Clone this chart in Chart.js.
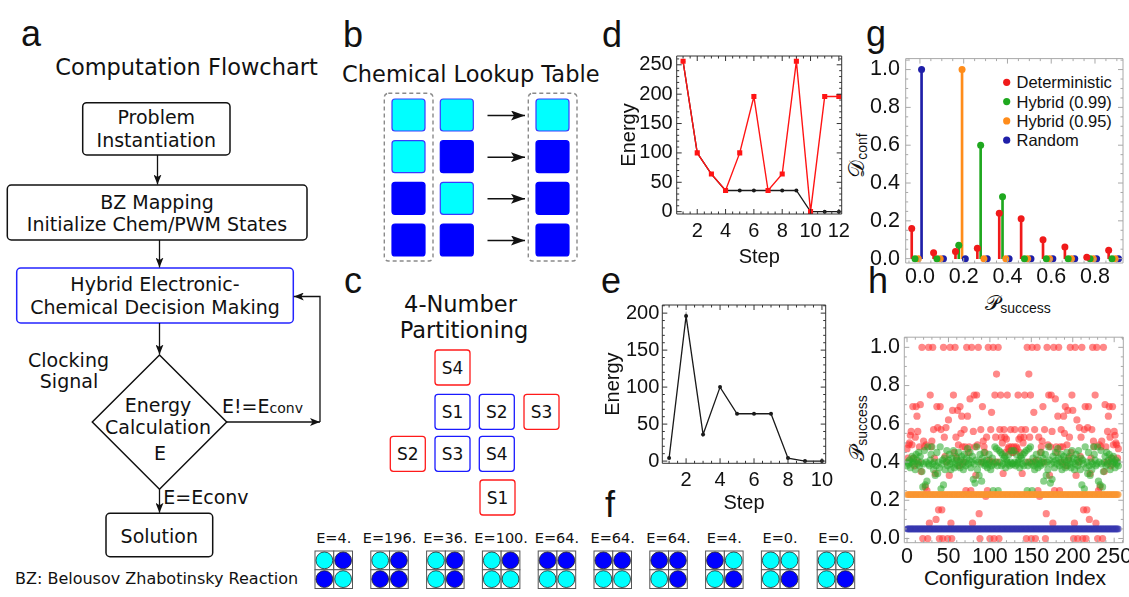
<!DOCTYPE html>
<html>
<head>
<meta charset="utf-8">
<title>Hybrid electronic-chemical number partitioning</title>
<script src="https://cdn.jsdelivr.net/npm/chart.js@4.4.1/dist/chart.umd.min.js"></script>
<style>
  html, body { margin: 0; padding: 0; background: #fff; overflow: hidden; }
  #page { position: relative; width: 1129px; height: 597px; overflow: hidden; background: #fff; }
  #page canvas, #page svg { position: absolute; }
</style>
</head>
<body>
<div id="page">
<svg id="art" width="1129" height="597" style="left:0;top:0">
  <defs>
    <marker id="head" viewBox="0 0 10 8" refX="10" refY="4" markerWidth="10" markerHeight="8" markerUnits="userSpaceOnUse" orient="auto">
      <path d="M0,0 L10,4 L0,8 L2.5,4 z" fill="#111"/>
    </marker>
    <marker id="headB" viewBox="0 0 14 10" refX="14" refY="5" markerWidth="14" markerHeight="10" markerUnits="userSpaceOnUse" orient="auto">
      <path d="M0,0 L14,5 L0,10 L3,5 z" fill="#111"/>
    </marker>
  </defs>

  <!-- panel letters -->
  <g font-family="Liberation Sans, Arial, sans-serif" font-size="36" fill="#111">
    <text x="21" y="46">a</text>
    <text x="343" y="47">b</text>
    <text x="344" y="293">c</text>
    <text x="602" y="47">d</text>
    <text x="601" y="293">e</text>
    <text x="605" y="517">f</text>
    <text x="866" y="46">g</text>
    <text x="868" y="293">h</text>
  </g>

  <!-- a: flowchart -->
  <g font-family="DejaVu Sans, Verdana, sans-serif" font-size="19" fill="#111" text-anchor="middle">
    <text x="186.5" y="75" font-size="22.5">Computation Flowchart</text>
    <g fill="none" stroke="#111" stroke-width="1.5">
      <rect x="82.7" y="102.7" width="147.3" height="52.3" rx="4"/>
      <rect x="7.3" y="185" width="299.7" height="55" rx="4"/>
      <rect x="16.7" y="268" width="276.6" height="55" rx="4" stroke="#2424ff"/>
      <polygon points="159.5,355 226.7,422 159.5,489.3 92.3,422"/>
      <rect x="106" y="513.3" width="106.7" height="43.4" rx="4"/>
    </g>
    <g fill="none" stroke="#111" stroke-width="1.3">
      <line x1="157.5" y1="155" x2="157.5" y2="184.5" marker-end="url(#head)"/>
      <line x1="159.5" y1="240" x2="159.5" y2="267.5" marker-end="url(#head)"/>
      <line x1="159.5" y1="323" x2="159.5" y2="354.5" marker-end="url(#head)"/>
      <line x1="159.5" y1="489.3" x2="159.5" y2="512.8" marker-end="url(#head)"/>
      <line x1="226.7" y1="422" x2="320" y2="422" marker-end="url(#head)"/>
      <polyline points="320,422 320,296.5 293.8,296.5" marker-end="url(#head)"/>
    </g>
    <text x="156.3" y="124">Problem</text>
    <text x="156.3" y="146.7">Instantiation</text>
    <text x="157" y="209">BZ Mapping</text>
    <text x="157" y="230.7">Initialize Chem/PWM States</text>
    <text x="155" y="290.7">Hybrid Electronic-</text>
    <text x="155" y="314">Chemical Decision Making</text>
    <text x="68.5" y="366.7">Clocking</text>
    <text x="69" y="388.3">Signal</text>
    <text x="158" y="412.3">Energy</text>
    <text x="158" y="434.3">Calculation</text>
    <text x="160" y="460">E</text>
    <text x="222" y="413" text-anchor="start">E!=E<tspan font-size="14">conv</tspan></text>
    <text x="163.3" y="504" text-anchor="start">E=Econv</text>
    <text x="159.3" y="543.3">Solution</text>
    <text x="15" y="584.3" text-anchor="start" font-size="16">BZ: Belousov Zhabotinsky Reaction</text>
  </g>

  <!-- b, c titles -->
  <g font-family="DejaVu Sans, Verdana, sans-serif" font-size="22.5" fill="#111" text-anchor="middle">
    <text x="470.8" y="81.5">Chemical Lookup Table</text>
    <text x="460.5" y="311.7">4-Number</text>
    <text x="464" y="338.3">Partitioning</text>
  </g>
  <g id="panelB"></g>
  <g id="panelC"></g>
  <g id="panelF"></g>

  <!-- g / h axis titles and legend -->
  <g font-family="Liberation Sans, Arial, sans-serif" fill="#111">
    <text transform="translate(864,155.5) rotate(-90)" text-anchor="middle"><tspan font-family="DejaVu Serif, serif" font-size="22">𝒟</tspan><tspan font-size="14" dy="3">conf</tspan></text>
    <text x="1018" y="310" text-anchor="middle"><tspan font-family="DejaVu Serif, serif" font-size="21">𝒫</tspan><tspan font-size="14" dy="3">success</tspan></text>
    <text transform="translate(864,428) rotate(-90)" text-anchor="middle"><tspan font-family="DejaVu Serif, serif" font-size="21">𝒫</tspan><tspan font-size="14" dy="3">success</tspan></text>
    <text x="1015" y="585" text-anchor="middle" font-size="21">Configuration Index</text>
  </g>
  <g id="legendG" font-family="Liberation Sans, Arial, sans-serif" font-size="16.5" fill="#111"></g>
</svg>
<canvas id="chartD" width="250" height="235" style="left:615px;top:40px"></canvas>
<canvas id="chartE" width="250" height="225" style="left:600px;top:290px"></canvas>
<canvas id="chartG" width="300" height="260" style="left:845px;top:40px"></canvas>
<canvas id="chartH" width="300" height="277" style="left:845px;top:320px"></canvas>
</div>

<script>
// ---- data ----

// d: energy trace, deterministic run and lowest energy found so far
const steps12 = [1, 2, 3, 4, 5, 6, 7, 8, 9, 10, 11, 12];
const energyDeterministic = [256, 100, 64, 36, 100, 196, 36, 64, 256, 0, 196, 196];
const energyLowest = [256, 100, 64, 36, 36, 36, 36, 36, 36, 0, 0, 0];
const dStepTicks = [2, 4, 6, 8, 10, 12];
const dEnergyTicks = [0, 50, 100, 150, 200, 250];

// e: energy trace of the hybrid run (same states as in f)
const steps10 = [1, 2, 3, 4, 5, 6, 7, 8, 9, 10];
const energyHybrid = [4, 196, 36, 100, 64, 64, 64, 4, 0, 0];
const eStepTicks = [2, 4, 6, 8, 10];
const eEnergyTicks = [0, 50, 100, 150, 200];

// f: 2x2 chemical states per step (1 = cyan, 0 = blue), order TL, TR, BL, BR
const fStates = [[1,0,0,1], [1,0,0,0], [1,0,1,0], [1,0,1,1], [0,0,1,1],
                 [0,0,1,1], [0,0,1,0], [0,1,1,0], [1,1,1,0], [1,1,1,0]];

// b: lookup table columns (input A, input B, output)
const lookupColumns = [[1,1,0,0], [1,0,1,0], [1,0,0,0]];

// g: distribution of configurations over success probability
const pBins = [0.0, 0.1, 0.2, 0.3, 0.4, 0.5, 0.6, 0.7, 0.8, 0.9];
const confDeterministic = [0.16, 0.031, 0.038, 0.055, 0.24, 0.211, 0.10, 0.062, 0.008, 0.045];
const confHybrid99 = [0, 0, 0.071, 0.60, 0.327, 0, 0, 0, 0, 0];
const confHybrid95 = [0, 0, 1.0, 0, 0, 0, 0, 0, 0, 0];
const confRandom = [1.0, 0, 0, 0, 0, 0, 0, 0, 0, 0];
const gPTicks = [0, 0.2, 0.4, 0.6, 0.8];
const gConfTicks = [0, 0.2, 0.4, 0.6, 0.8, 1.0];

// h: success probability for each of the 256 configurations
const successDeterministic = [
  0.47,0.42,0.49,0.50,0.54,0.56,0.49,0.69,0.42,0.38,0.53,0.69,0.64,0.56,0.40,0.48,
  0.70,0.35,1.00,0.00,0.51,0.48,0.27,0.49,0.25,0.00,1.00,0.08,0.75,0.48,0.51,1.00,
  0.57,0.42,0.34,0.10,0.69,0.58,0.15,0.00,0.69,0.57,0.15,0.00,1.00,0.53,0.43,0.58,
  0.40,0.00,0.62,0.33,1.00,0.08,0.00,0.67,0.75,0.45,1.00,0.53,0.42,0.67,0.49,0.38,
  0.69,0.55,0.64,0.48,0.40,0.57,0.48,0.25,1.00,0.64,0.45,0.48,0.73,0.25,1.00,0.08,
  0.56,0.75,0.48,0.33,0.75,0.49,1.00,0.13,0.00,0.57,0.40,0.69,0.51,0.48,0.45,0.22,
  0.53,0.25,1.00,0.41,0.00,0.57,0.66,0.40,1.00,0.00,0.75,0.53,0.86,0.40,1.00,0.00,
  0.57,0.75,0.53,0.50,0.34,0.57,0.53,0.45,0.52,0.75,0.47,0.48,0.46,0.57,0.48,0.45,
  0.45,0.48,0.57,0.46,0.48,0.47,0.75,0.52,0.45,0.53,0.57,0.34,0.50,0.53,0.75,0.57,
  0.00,1.00,0.40,0.86,0.53,0.75,0.00,1.00,0.40,0.66,0.57,0.00,0.41,1.00,0.25,0.53,
  0.22,0.45,0.48,0.51,0.69,0.40,0.57,0.00,0.13,1.00,0.49,0.75,0.33,0.48,0.75,0.56,
  0.08,1.00,0.25,0.73,0.48,0.45,0.64,1.00,0.25,0.48,0.57,0.40,0.48,0.64,0.55,0.69,
  0.38,0.49,0.67,0.42,0.53,1.00,0.45,0.75,0.67,0.00,0.08,1.00,0.33,0.62,0.00,0.40,
  0.58,0.43,0.53,1.00,0.00,0.15,0.57,0.69,0.00,0.15,0.58,0.69,0.10,0.34,0.42,0.57,
  1.00,0.51,0.48,0.75,0.08,1.00,0.00,0.25,0.49,0.27,0.48,0.51,0.00,1.00,0.35,0.70,
  0.48,0.40,0.56,0.64,0.69,0.53,0.38,0.42,0.69,0.49,0.56,0.54,0.50,0.49,0.42,0.47
];
const successHybrid99 = [
  0.38,0.40,0.39,0.41,0.37,0.40,0.43,0.39,0.42,0.40,0.36,0.44,0.41,0.39,0.45,0.38,
  0.43,0.40,0.35,0.27,0.39,0.46,0.28,0.40,0.30,0.48,0.39,0.38,0.41,0.44,0.48,0.39,
  0.36,0.40,0.33,0.38,0.45,0.34,0.40,0.37,0.48,0.26,0.39,0.41,0.28,0.42,0.36,0.40,
  0.46,0.38,0.41,0.44,0.39,0.36,0.42,0.40,0.46,0.37,0.39,0.43,0.41,0.38,0.45,0.40,
  0.37,0.41,0.43,0.39,0.36,0.44,0.40,0.38,0.42,0.47,0.39,0.41,0.45,0.37,0.40,0.43,
  0.31,0.39,0.29,0.41,0.48,0.36,0.40,0.33,0.44,0.39,0.30,0.42,0.40,0.45,0.38,0.39,
  0.41,0.37,0.39,0.44,0.40,0.36,0.38,0.42,0.25,0.39,0.48,0.40,0.47,0.38,0.25,0.46,
  0.40,0.45,0.38,0.44,0.39,0.42,0.43,0.37,0.41,0.40,0.39,0.44,0.38,0.40,0.46,0.39,
  0.39,0.46,0.40,0.38,0.44,0.39,0.40,0.41,0.37,0.43,0.42,0.39,0.44,0.38,0.45,0.40,
  0.46,0.25,0.38,0.47,0.40,0.48,0.39,0.25,0.42,0.38,0.36,0.40,0.44,0.39,0.37,0.41,
  0.39,0.38,0.45,0.40,0.42,0.30,0.39,0.44,0.33,0.40,0.36,0.48,0.41,0.29,0.39,0.31,
  0.43,0.40,0.37,0.45,0.41,0.39,0.47,0.42,0.38,0.40,0.44,0.36,0.39,0.43,0.41,0.37,
  0.40,0.45,0.38,0.41,0.43,0.39,0.37,0.46,0.40,0.42,0.36,0.39,0.44,0.41,0.38,0.46,
  0.40,0.36,0.42,0.28,0.41,0.39,0.26,0.48,0.37,0.40,0.34,0.45,0.38,0.33,0.40,0.36,
  0.39,0.48,0.44,0.41,0.38,0.39,0.48,0.30,0.40,0.28,0.46,0.39,0.27,0.35,0.40,0.43,
  0.38,0.45,0.39,0.41,0.44,0.36,0.40,0.42,0.39,0.43,0.40,0.37,0.41,0.39,0.40,0.38
];
const successHybrid95 = [
  0.23,0.23,0.23,0.23,0.23,0.23,0.23,0.23,0.23,0.23,0.23,0.23,0.23,0.23,0.23,0.23,
  0.23,0.23,0.23,0.23,0.23,0.23,0.23,0.23,0.23,0.23,0.23,0.23,0.23,0.23,0.23,0.23,
  0.23,0.23,0.23,0.23,0.23,0.23,0.23,0.23,0.23,0.23,0.23,0.23,0.23,0.23,0.23,0.23,
  0.23,0.23,0.23,0.23,0.23,0.23,0.23,0.23,0.23,0.23,0.23,0.23,0.23,0.23,0.23,0.23,
  0.23,0.23,0.23,0.23,0.23,0.23,0.23,0.23,0.23,0.23,0.23,0.23,0.23,0.23,0.23,0.23,
  0.23,0.23,0.23,0.23,0.23,0.23,0.23,0.23,0.23,0.23,0.23,0.23,0.23,0.23,0.23,0.23,
  0.23,0.23,0.23,0.23,0.23,0.23,0.23,0.23,0.23,0.23,0.23,0.23,0.23,0.23,0.23,0.23,
  0.23,0.23,0.23,0.23,0.23,0.23,0.23,0.23,0.23,0.23,0.23,0.23,0.23,0.23,0.23,0.23,
  0.23,0.23,0.23,0.23,0.23,0.23,0.23,0.23,0.23,0.23,0.23,0.23,0.23,0.23,0.23,0.23,
  0.23,0.23,0.23,0.23,0.23,0.23,0.23,0.23,0.23,0.23,0.23,0.23,0.23,0.23,0.23,0.23,
  0.23,0.23,0.23,0.23,0.23,0.23,0.23,0.23,0.23,0.23,0.23,0.23,0.23,0.23,0.23,0.23,
  0.23,0.23,0.23,0.23,0.23,0.23,0.23,0.23,0.23,0.23,0.23,0.23,0.23,0.23,0.23,0.23,
  0.23,0.23,0.23,0.23,0.23,0.23,0.23,0.23,0.23,0.23,0.23,0.23,0.23,0.23,0.23,0.23,
  0.23,0.23,0.23,0.23,0.23,0.23,0.23,0.23,0.23,0.23,0.23,0.23,0.23,0.23,0.23,0.23,
  0.23,0.23,0.23,0.23,0.23,0.23,0.23,0.23,0.23,0.23,0.23,0.23,0.23,0.23,0.23,0.23,
  0.23,0.23,0.23,0.23,0.23,0.23,0.23,0.23,0.23,0.23,0.23,0.23,0.23,0.23,0.23,0.23
];
const successRandom = [
  0.05,0.05,0.05,0.05,0.05,0.05,0.05,0.05,0.05,0.05,0.05,0.05,0.05,0.05,0.05,0.05,
  0.05,0.05,0.05,0.05,0.05,0.05,0.05,0.05,0.05,0.05,0.05,0.05,0.05,0.05,0.05,0.05,
  0.05,0.05,0.05,0.05,0.05,0.05,0.05,0.05,0.05,0.05,0.05,0.05,0.05,0.05,0.05,0.05,
  0.05,0.05,0.05,0.05,0.05,0.05,0.05,0.05,0.05,0.05,0.05,0.05,0.05,0.05,0.05,0.05,
  0.05,0.05,0.05,0.05,0.05,0.05,0.05,0.05,0.05,0.05,0.05,0.05,0.05,0.05,0.05,0.05,
  0.05,0.05,0.05,0.05,0.05,0.05,0.05,0.05,0.05,0.05,0.05,0.05,0.05,0.05,0.05,0.05,
  0.05,0.05,0.05,0.05,0.05,0.05,0.05,0.05,0.05,0.05,0.05,0.05,0.05,0.05,0.05,0.05,
  0.05,0.05,0.05,0.05,0.05,0.05,0.05,0.05,0.05,0.05,0.05,0.05,0.05,0.05,0.05,0.05,
  0.05,0.05,0.05,0.05,0.05,0.05,0.05,0.05,0.05,0.05,0.05,0.05,0.05,0.05,0.05,0.05,
  0.05,0.05,0.05,0.05,0.05,0.05,0.05,0.05,0.05,0.05,0.05,0.05,0.05,0.05,0.05,0.05,
  0.05,0.05,0.05,0.05,0.05,0.05,0.05,0.05,0.05,0.05,0.05,0.05,0.05,0.05,0.05,0.05,
  0.05,0.05,0.05,0.05,0.05,0.05,0.05,0.05,0.05,0.05,0.05,0.05,0.05,0.05,0.05,0.05,
  0.05,0.05,0.05,0.05,0.05,0.05,0.05,0.05,0.05,0.05,0.05,0.05,0.05,0.05,0.05,0.05,
  0.05,0.05,0.05,0.05,0.05,0.05,0.05,0.05,0.05,0.05,0.05,0.05,0.05,0.05,0.05,0.05,
  0.05,0.05,0.05,0.05,0.05,0.05,0.05,0.05,0.05,0.05,0.05,0.05,0.05,0.05,0.05,0.05,
  0.05,0.05,0.05,0.05,0.05,0.05,0.05,0.05,0.05,0.05,0.05,0.05,0.05,0.05,0.05,0.05
];
const hIndexTicks = [0, 50, 100, 150, 200, 250];
const hSuccessTicks = [0, 0.2, 0.4, 0.6, 0.8, 1.0];

// ---- diagrams (b, c, f) ----
const svgNS = 'http://www.w3.org/2000/svg';
function add(parent, tag, attrs, text) {
    const el = document.createElementNS(svgNS, tag);
    for (const k in attrs) el.setAttribute(k, attrs[k]);
    if (text !== undefined) el.textContent = text;
    document.getElementById(parent).appendChild(el);
    return el;
}
const CYAN = '#00ffff', BLUE = '#0000ff';

// b: lookup table
const colX = [392, 440.3, 536];
const rowY = [99, 140.7, 182.3, 224];
[384.3, 528.3].forEach(x => add('panelB', 'rect', { x, y: 93.3, width: 48.7, height: 167.7, rx: 4,
    fill: 'none', stroke: '#8a8a8a', 'stroke-width': 1.4, 'stroke-dasharray': '4 3' }));
lookupColumns.forEach((col, c) => col.forEach((on, r) => {
    add('panelB', 'rect', { x: colX[c], y: rowY[r], width: 33, height: 32, rx: 3,
        fill: on ? CYAN : BLUE, stroke: on ? '#3a3aff' : BLUE, 'stroke-width': 1.2 });
}));
rowY.forEach(y => add('panelB', 'line', { x1: 487.5, y1: y + 16.5, x2: 525, y2: y + 16.5,
    stroke: '#111', 'stroke-width': 1.4, 'marker-end': 'url(#headB)' }));

// c: number partition boxes
const partitionBoxes = [
    ['S4', 'r', 435, 350],
    ['S1', 'b', 435, 394.3], ['S2', 'b', 479.3, 394.3], ['S3', 'r', 524, 394.3],
    ['S2', 'r', 390.3, 436.3], ['S3', 'b', 435, 436.3], ['S4', 'b', 479.3, 436.3],
    ['S1', 'r', 480, 480]
];
partitionBoxes.forEach(([t, c, x, y]) => {
    add('panelC', 'rect', { x, y, width: 35, height: 35, rx: 3, fill: '#fff',
        stroke: c === 'r' ? '#ff1a1a' : '#1a1aff', 'stroke-width': 1.3 });
    add('panelC', 'text', { x: x + 17.5, y: y + 23.5, 'text-anchor': 'middle',
        'font-family': 'DejaVu Sans, Verdana, sans-serif', 'font-size': 17, fill: '#111' }, t);
});

// f: states per step
fStates.forEach((st, i) => {
    const x0 = 315 + i * 55.8, y0 = 551, cell = 18.75;
    add('panelF', 'text', { x: x0 + cell, y: 543.3, 'text-anchor': 'middle',
        'font-family': 'DejaVu Sans, Verdana, sans-serif', 'font-size': 14.5, fill: '#111' },
        'E=' + energyHybrid[i] + '.');
    st.forEach((on, k) => {
        const cx = x0 + (k % 2) * cell, cy = y0 + Math.floor(k / 2) * cell;
        add('panelF', 'rect', { x: cx, y: cy, width: cell, height: cell, fill: '#fff', stroke: '#555', 'stroke-width': 1 });
        add('panelF', 'circle', { cx: cx + cell / 2, cy: cy + cell / 2, r: 8.4,
            fill: on ? CYAN : BLUE, stroke: '#222', 'stroke-width': 0.8 });
    });
});

// ---- charts ----
Chart.defaults.font.family = "'Liberation Sans', Arial, sans-serif";
Chart.defaults.font.size = 20;
Chart.defaults.color = '#111';
Chart.defaults.animation = false;
Chart.defaults.plugins.legend.display = false;
Chart.defaults.plugins.tooltip.enabled = false;

// Mathematica-style frame with inward major and minor ticks
const framePlugin = {
    id: 'frame',
    defaults: { color: '#333', major: 5, minor: 2.5, xMinor: 0, yMinor: 0 },
    afterDraw(chart, args, o) {
        const { ctx, chartArea: a, scales: { x, y } } = chart;
        const marks = (scale, step) => {
            const out = scale.ticks.map(t => [t.value, o.major]);
            if (step) {
                for (let k = Math.ceil(scale.min / step); k * step <= scale.max + 1e-9; k++) {
                    const v = k * step;
                    if (!scale.ticks.some(t => Math.abs(t.value - v) < step / 10)) out.push([v, o.minor]);
                }
            }
            return out;
        };
        ctx.save();
        ctx.strokeStyle = o.color;
        ctx.lineWidth = 1;
        ctx.beginPath();
        ctx.rect(a.left, a.top, a.right - a.left, a.bottom - a.top);
        marks(x, o.xMinor).forEach(([v, len]) => {
            const p = x.getPixelForValue(v);
            ctx.moveTo(p, a.bottom); ctx.lineTo(p, a.bottom - len);
            ctx.moveTo(p, a.top); ctx.lineTo(p, a.top + len);
        });
        marks(y, o.yMinor).forEach(([v, len]) => {
            const p = y.getPixelForValue(v);
            ctx.moveTo(a.left, p); ctx.lineTo(a.left + len, p);
            ctx.moveTo(a.right, p); ctx.lineTo(a.right - len, p);
        });
        ctx.stroke();
        ctx.restore();
    }
};
Chart.register(framePlugin);

function axis({ min, max, ticks, size, pad, fmt, title, titlePad, fontSize }) {
    return {
        type: 'linear', min, max,
        grid: { display: false, drawTicks: false },
        border: { display: false },
        ticks: { padding: pad, autoSkip: false, maxRotation: 0, minRotation: 0,
                 font: { size: fontSize || 20 },
                 callback: fmt || (v => String(v)) },
        afterBuildTicks: s => { s.ticks = ticks.map(v => ({ value: v })); },
        afterFit: s => { if (s.isHorizontal()) s.height = size; else s.width = size; },
        title: title ? { display: true, text: title, padding: titlePad } : { display: false }
    };
}
const oneDecimal = v => v.toFixed(1);
const pts = (xs, ys) => xs.map((x, i) => ({ x, y: ys[i] }));

// d
new Chart(document.getElementById('chartD'), {
    type: 'scatter',
    data: {
        datasets: [
            { label: 'Deterministic', data: pts(steps12, energyDeterministic), showLine: true,
              borderColor: '#ff1414', backgroundColor: '#ff1414', borderWidth: 1.4,
              pointStyle: 'rect', pointRadius: 3.6, pointBorderWidth: 0 },
            { label: 'Lowest energy', data: pts(steps12, energyLowest), showLine: true,
              borderColor: '#1a1a1a', backgroundColor: '#1a1a1a', borderWidth: 1.3,
              pointRadius: 2, pointBorderWidth: 0 }
        ]
    },
    options: {
        responsive: false,
        layout: { padding: { top: 10, right: 23.3, left: 0, bottom: 0 } },
        scales: {
            x: axis({ min: 0.55, max: 12.2, ticks: dStepTicks, size: 61, pad: 5.7,
                      title: 'Step', titlePad: { top: 0, bottom: 6 } }),
            y: axis({ min: -4, max: 265, ticks: dEnergyTicks, size: 61.7, pad: 4,
                      title: 'Energy', titlePad: { top: 2, bottom: 0 } })
        },
        plugins: { frame: { color: '#333', xMinor: 0.5, yMinor: 10 } }
    }
});

// e
new Chart(document.getElementById('chartE'), {
    type: 'scatter',
    data: {
        datasets: [
            { label: 'Hybrid', data: pts(steps10, energyHybrid), showLine: true,
              borderColor: '#1a1a1a', backgroundColor: '#1a1a1a', borderWidth: 1.3,
              pointRadius: 2, pointBorderWidth: 0 }
        ]
    },
    options: {
        responsive: false,
        layout: { padding: { top: 9, right: 24.3, left: 0, bottom: 0 } },
        scales: {
            x: axis({ min: 0.6, max: 10.22, ticks: eStepTicks, size: 51.7, pad: 4.7,
                      title: 'Step', titlePad: { top: 0, bottom: 0 } }),
            y: axis({ min: -3, max: 211, ticks: eEnergyTicks, size: 62.3, pad: 3,
                      title: 'Energy', titlePad: { top: 1, bottom: 0 } })
        },
        plugins: { frame: { color: '#333', xMinor: 0.5, yMinor: 10 } }
    }
});

// g
const gSeries = [
    { label: 'Deterministic', values: confDeterministic, color: '#f01a1a', shift: -0.0375 },
    { label: 'Hybrid (0.99)', values: confHybrid99, color: '#1fa81f', shift: -0.0225 },
    { label: 'Hybrid (0.95)', values: confHybrid95, color: '#ff8c1a', shift: -0.0075 },
    { label: 'Random', values: confRandom, color: '#1f1fa8', shift: 0.0075 }
];
const gDatasets = [];
gSeries.forEach(s => {
    const data = pBins.map((p, i) => ({ x: p + s.shift, y: s.values[i] }));
    gDatasets.push({ type: 'scatter', label: s.label, data, backgroundColor: s.color,
                     pointRadius: 3.5, pointBorderWidth: 0, order: 1 });
    gDatasets.push({ type: 'bar', label: s.label + ' stem', data, backgroundColor: s.color,
                     grouped: false, maxBarThickness: 2, barPercentage: 1, categoryPercentage: 1, order: 2 });
});
new Chart(document.getElementById('chartG'), {
    type: 'bar',
    data: { datasets: gDatasets },
    options: {
        responsive: false,
        layout: { padding: { top: 5, right: 22, left: 0, bottom: 0 } },
        scales: {
            x: Object.assign(axis({ min: -0.065, max: 0.928, ticks: gPTicks, size: 37, pad: 1.6,
                                    fmt: oneDecimal, fontSize: 21.5 }), { offset: false }),
            y: axis({ min: -0.023, max: 1.058, ticks: gConfTicks, size: 60.7, pad: 5.7,
                      fmt: oneDecimal, fontSize: 21.5 })
        },
        plugins: { frame: { color: '#a8a8a8', xMinor: 0.05, yMinor: 0.05 } }
    }
});

// g legend
gSeries.forEach((s, i) => {
    const cy = 82.3 + i * 19.3;
    add('legendG', 'circle', { cx: 1006.7, cy, r: 3.6, fill: s.color });
    add('legendG', 'text', { x: 1016.5, y: cy + 6 }, s.label);
});

// h
const configIndex = successDeterministic.map((_, i) => i);
new Chart(document.getElementById('chartH'), {
    type: 'scatter',
    data: {
        datasets: [
            { label: 'Random', data: pts(configIndex, successRandom), backgroundColor: 'rgba(55,55,175,0.55)', pointRadius: 3.4, pointBorderWidth: 0 },
            { label: 'Hybrid (0.95)', data: pts(configIndex, successHybrid95), backgroundColor: 'rgba(250,150,50,0.55)', pointRadius: 3.4, pointBorderWidth: 0 },
            { label: 'Hybrid (0.99)', data: pts(configIndex, successHybrid99), backgroundColor: 'rgba(40,170,40,0.55)', pointRadius: 3.6, pointBorderWidth: 0 },
            { label: 'Deterministic', data: pts(configIndex, successDeterministic), backgroundColor: 'rgba(255,50,50,0.58)', pointRadius: 3.6, pointBorderWidth: 0 }
        ]
    },
    options: {
        responsive: false,
        layout: { padding: { top: 6, right: 21.7, left: 0, bottom: 0 } },
        scales: {
            x: axis({ min: -3.3, max: 261, ticks: hIndexTicks, size: 54.3, pad: 1.9, fontSize: 21.5 }),
            y: axis({ min: -0.022, max: 1.053, ticks: hSuccessTicks, size: 59.3, pad: 4.3,
                      fmt: oneDecimal, fontSize: 21.5 })
        },
        plugins: { frame: { color: '#a8a8a8', xMinor: 10, yMinor: 0.05 } }
    }
});
</script>
</body>
</html>
